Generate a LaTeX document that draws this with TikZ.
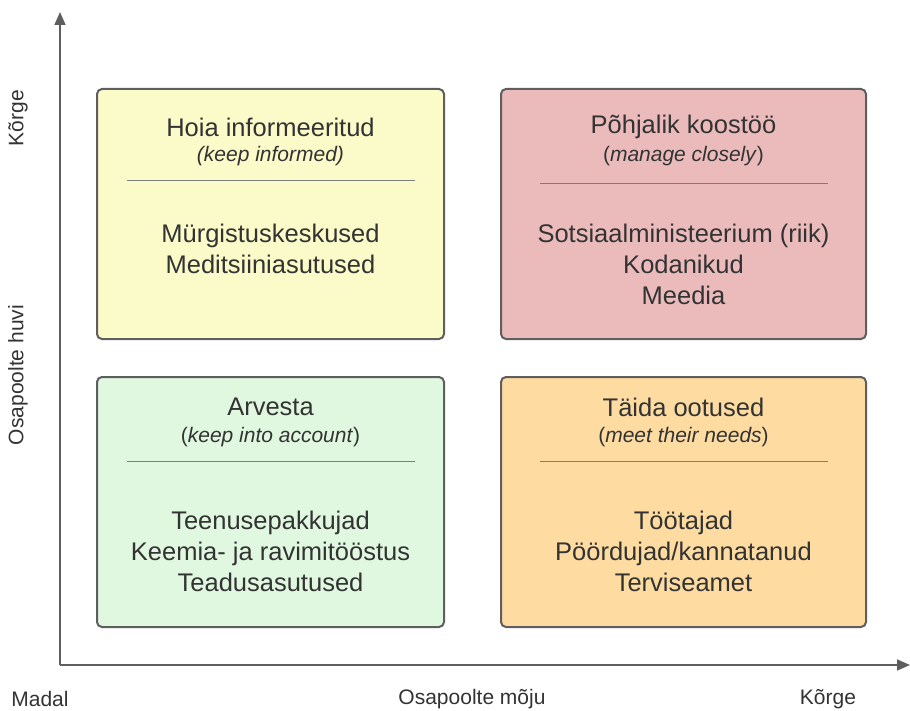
\documentclass[tikz,border=0pt]{standalone}
\usepackage{fontspec}
\setmainfont{Liberation Sans}
\usetikzlibrary{arrows.meta}
\definecolor{txt}{HTML}{333333}
\definecolor{edge}{HTML}{5E5E5E}
\definecolor{cyellow}{HTML}{FBFAC9}
\definecolor{cred}{HTML}{EBBBBC}
\definecolor{cgreen}{HTML}{E0F8E0}
\definecolor{corange}{HTML}{FDDBA1}
\tikzset{
  quad/.style={draw=edge, line width=2pt, rounded corners=5pt, inner sep=0pt},
  ttl/.style={text=txt, font=\fontsize{25.5}{30}\selectfont, inner sep=0pt},
  sub/.style={text=txt, font=\fontsize{21}{25}\selectfont, inner sep=0pt},
  body/.style={text=txt, font=\fontsize{25.5}{31}\selectfont, align=center, inner sep=0pt},
  sep/.style={draw=edge!80, line width=0.8pt},
  axis/.style={draw=edge, line width=1.6pt, -{Triangle[length=13pt,width=11pt]}},
  axlab/.style={text=txt, font=\fontsize{21}{25}\selectfont, inner sep=0pt}
}
\begin{document}
\begin{tikzpicture}[x=1pt,y=-1pt]
\useasboundingbox (0,0) rectangle (910,711);
% axes
\coordinate (o) at (60,665);
\coordinate (ytip) at (60,12);
\coordinate (xtip) at (910,665);
\draw[axis] (o) -- (ytip);
\draw[axis] (o) -- (xtip);
% axis labels
\node[axlab, rotate=90] (yhigh) at (18,118) {Kõrge};
\node[axlab, rotate=90] (ylab) at (18,375) {Osapoolte huvi};
\node[axlab] (xlow) at (40,698.5) {Madal};
\node[axlab] (xlab) at (472,699.5) {Osapoolte mõju};
\node[axlab] (xhigh) at (828,699) {Kõrge};
% boxes
\node[quad, fill=cyellow, minimum width=347pt, minimum height=250pt] (tl) at (270.5,214) {};
\node[quad, fill=cred, minimum width=365pt, minimum height=250pt] (tr) at (683.5,214) {};
\node[quad, fill=cgreen, minimum width=347pt, minimum height=250pt] (bl) at (270.5,502) {};
\node[quad, fill=corange, minimum width=365pt, minimum height=250pt] (br) at (683.5,502) {};
% top-left
\node[ttl] (tlt) at (270.5,127) {Hoia informeeritud};
\node[sub] (tls) at (270.5,156) {\itshape(keep informed)};
\draw[sep] (127,180.5) -- (415,180.5);
\node[body] (tlb) at (270.5,249) {Mürgistuskeskused\\Meditsiiniasutused};
% top-right
\node[ttl] (trt) at (683.5,127) {Põhjalik koostöö};
\node[sub] (trs) at (683.5,156) {(\textit{manage closely})};
\draw[sep] (540,183.5) -- (828,183.5);
\node[body] (trb) at (683.5,264) {Sotsiaalministeerium (riik)\\Kodanikud\\Meedia};
% bottom-left
\node[ttl] (blt) at (270.5,407) {Arvesta};
\node[sub] (bls) at (270.5,437) {(\textit{keep into account})};
\draw[sep] (127,461.5) -- (415,461.5);
\node[body] (blb) at (270.5,551) {Teenusepakkujad\\Keemia- ja ravimitööstus\\Teadusasutused};
% bottom-right
\node[ttl] (brt) at (683.5,407) {Täida ootused};
\node[sub] (brs) at (683.5,437) {(\textit{meet their needs})};
\draw[sep] (540,461.5) -- (828,461.5);
\node[body] (brb) at (683.5,551) {Töötajad\\Pöördujad/kannatanud\\Terviseamet};
\end{tikzpicture}
\end{document}
